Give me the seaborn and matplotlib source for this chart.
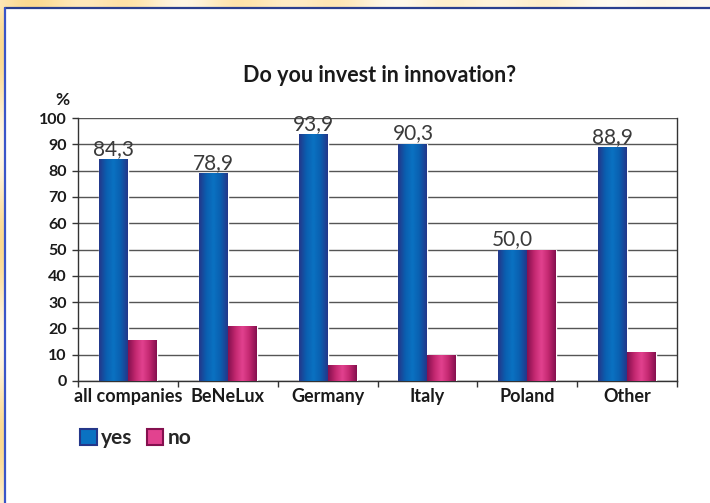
import numpy as np
import pandas as pd
import matplotlib
matplotlib.use("Agg")
import matplotlib.pyplot as plt
from matplotlib.colors import LinearSegmentedColormap
from matplotlib.patches import Rectangle
import seaborn as sns

categories = ["all companies", "BeNeLux", "Germany", "Italy", "Poland", "Other"]
yes_values = [84.3, 78.9, 93.9, 90.3, 50.0, 88.9]
no_values = [15.7, 21.1, 6.1, 9.7, 50.0, 11.1]
series = ["yes", "no"]
y_ticks = [0, 10, 20, 30, 40, 50, 60, 70, 80, 90, 100]

df = pd.DataFrame({
    "country": categories * 2,
    "answer": ["yes"] * len(categories) + ["no"] * len(categories),
    "share": yes_values + no_values,
})

sns.set_theme(style="white")
plt.rcParams["font.family"] = ["Lato", "DejaVu Sans"]

base = {"yes": "#1a56a8", "no": "#c02473"}
ramps = {
    "yes": ["#24378a", "#0a5fb0", "#0a72c2", "#0a5fb0", "#24378a"],
    "no": ["#85104f", "#c2276f", "#e2428f", "#c2276f", "#85104f"],
}

fig = plt.figure(figsize=(7.10, 5.03), dpi=100)

# decorative backdrop: warm strip along top and left, then a thin blue frame
bg = fig.add_axes([0, 0, 1, 1], zorder=-10)
H, W = 503, 710
img = np.ones((H, W, 3))
warm = np.array([0.99, 0.84, 0.52])
yy, xx = np.mgrid[0:H, 0:W]
wave_top = 0.6 + 0.35 * np.sin(xx / 23.0) * np.cos(xx / 61.0)
wave_left = 0.55 + 0.35 * np.sin(yy / 31.0)
top_mask = (yy < 8)
left_mask = (xx < 4)
fade_top = np.clip(1.15 - xx / 800.0, 0, 1)
a = np.zeros((H, W))
a[top_mask] = (wave_top * fade_top)[top_mask]
a[left_mask] = np.maximum(a[left_mask], wave_left[left_mask])
img = img * (1 - a[..., None]) + warm * a[..., None]
bg.imshow(img, extent=[0, W, H, 0], aspect="auto")
bg.plot([4.5, 710], [8, 8], color="#2a3f8f", lw=1.6)
bg.plot([4.5, 4.5], [8, 503], color="#3a55c8", lw=1.6)
bg.set_xlim(0, W)
bg.set_ylim(H, 0)
bg.axis("off")

ax = fig.add_axes([78 / 710, 1 - 381 / 503, (677 - 78) / 710, (381 - 118) / 503])
ax.set_facecolor("none")

sns.barplot(data=df, x="country", y="share", hue="answer", order=categories,
            hue_order=series, palette=base, width=0.58, saturation=1,
            ax=ax, legend=False, zorder=3)

# shade each bar with a horizontal cylinder-like gradient
grad = np.linspace(0, 1, 64).reshape(1, -1)
n = len(categories)
for i, patch in enumerate(ax.patches[: 2 * n]):
    key = series[i // n]
    cmap = LinearSegmentedColormap.from_list(key, ramps[key])
    x0, w, h = patch.get_x(), patch.get_width(), patch.get_height()
    im = ax.imshow(grad, cmap=cmap, extent=[x0, x0 + w, 0, h], aspect="auto",
                   zorder=4, interpolation="bicubic")
    im.set_clip_path(patch)

# value labels over the "yes" bars
for i, v in enumerate(yes_values):
    patch = ax.patches[i]
    ax.text(patch.get_x() + patch.get_width() / 2, v + 0.1,
            f"{v:.1f}".replace(".", ","), ha="center", va="bottom",
            fontsize=15, color="#3a3a3a", family=["Lato", "DejaVu Sans"],
            fontweight="normal", zorder=6)

ax.set_xlim(-0.5, n - 0.5)
ax.set_ylim(0, 100)
ax.set_yticks(y_ticks)
ax.set_yticklabels([str(t) for t in y_ticks], fontsize=11.5, fontweight="bold",
                   color="#1a1a1a")
ax.set_xticks(range(n))
ax.set_xticklabels(categories, fontsize=13, fontweight="bold", color="#1a1a1a")
ax.set_xticks(np.arange(-0.5, n, 1.0), minor=True)
ax.tick_params(axis="x", which="major", length=0, pad=5)
ax.tick_params(axis="x", which="minor", length=4, width=1, color="#333333",
               direction="out", bottom=True)
ax.tick_params(axis="y", length=4, width=1, color="#333333", direction="out",
               left=True, pad=4)
ax.set_xlabel("")
ax.set_ylabel("")
ax.yaxis.grid(True, color="#555555", lw=1, zorder=0)
ax.set_axisbelow(True)
for side in ["left", "bottom", "right"]:
    ax.spines[side].set_visible(True)
    ax.spines[side].set_color("#333333")
    ax.spines[side].set_linewidth(1)
ax.spines["top"].set_visible(False)

fig.text(380 / 710, 1 - 75 / 503, "Do you invest in innovation?", ha="center",
         va="center", fontsize=15.5, fontweight="bold", color="#1a1a1a")
fig.text(62 / 710, 1 - 100 / 503, "%", ha="center", va="center", fontsize=12.5,
         fontweight="bold", color="#1a1a1a")

handles = [Rectangle((0, 0), 1, 1, facecolor=ramps[k][2], edgecolor=ramps[k][0],
                     lw=1.5) for k in series]
fig.legend(handles, series, loc="center left",
           bbox_to_anchor=(80 / 710, 1 - 438 / 503), ncol=2, frameon=False,
           prop={"weight": "bold", "size": 15}, handlelength=0.8,
           handleheight=0.8, handletextpad=0.2, columnspacing=0.7,
           borderaxespad=0, borderpad=0)

fig.savefig("out.png", dpi=100)
